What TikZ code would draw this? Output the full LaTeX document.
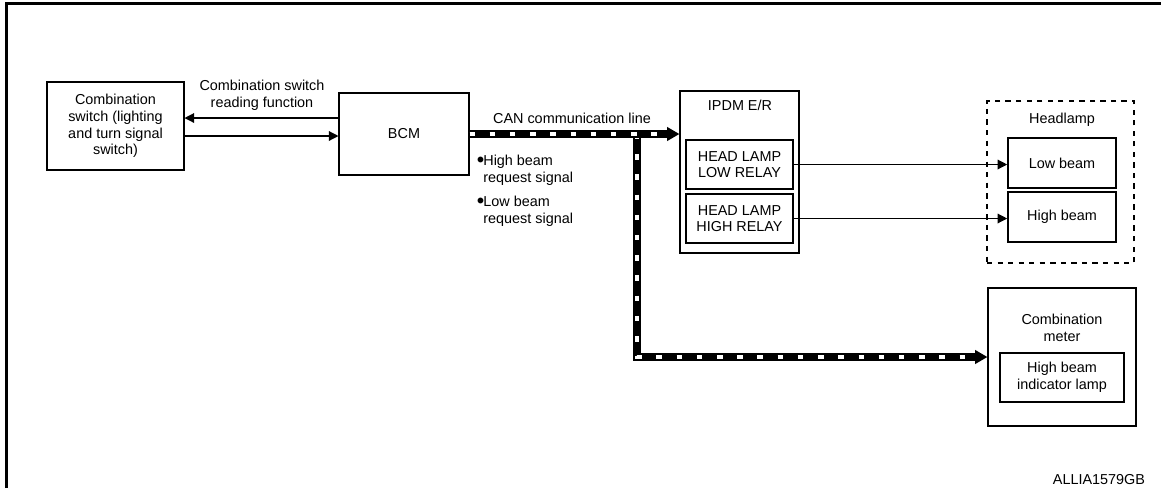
\documentclass[tikz,border=0pt]{standalone}
\usepackage{fontspec}
\setmainfont{Liberation Sans}
\usetikzlibrary{arrows.meta,positioning,calc}

\begin{document}
\begin{tikzpicture}[x=0.02cm,y=-0.02cm,
  font=\fontsize{8.2}{9.5}\selectfont,
  blk/.style={rectangle,draw,line width=0.6pt,align=center,inner sep=0pt},
  sub/.style={rectangle,draw,line width=0.9pt,align=center,inner sep=0pt},
  txt/.style={align=center,inner sep=0pt},
  arr/.style={-{Triangle[length=5.5pt,width=5.5pt]},line width=0.7pt},
  can/.style={line width=4pt,-{Triangle[length=7pt,width=7.5pt]},
              postaction={draw=white,-,line width=2.2pt,dash pattern=on 3.1pt off 8.4pt,shorten >=8pt}}
]
  \useasboundingbox (0,0) rectangle (1161,488);
  \draw[line width=1.7pt] (6.5,488) -- (6.5,3.5) -- (1161,3.5);

  \node[blk,minimum width=2.74cm,minimum height=1.76cm](sw) at (115.5,126)
      {Combination\\switch (lighting\\and turn signal\\switch)};
  \node[blk,minimum width=2.6cm,minimum height=1.64cm](bcm) at (404,134) {BCM};

  \node[blk,minimum width=2.38cm,minimum height=3.24cm](ipdm) at (739.5,172) {};
  \node[txt](ipdmt) at (740,105) {IPDM E/R};
  \node[sub,minimum width=2.14cm,minimum height=0.98cm](lowrly)  at (739.5,164.5) {HEAD LAMP\\LOW RELAY};
  \node[sub,minimum width=2.14cm,minimum height=0.98cm](highrly) at (739.5,218.5) {HEAD LAMP\\HIGH RELAY};

  \node[blk,dashed,minimum width=2.94cm,minimum height=3.24cm](hl) at (1060.5,182) {};
  \node[txt](hlt) at (1062,120) {Headlamp};
  \node[sub,minimum width=2.16cm,minimum height=1.0cm](lowbm)  at (1062,163) {Low beam};
  \node[sub,minimum width=2.16cm,minimum height=1.0cm](highbm) at (1062,217) {High beam};

  \node[blk,minimum width=2.96cm,minimum height=2.76cm](meter) at (1062,357) {};
  \node[txt](metert) at (1062,327.5) {Combination\\meter};
  \node[blk,minimum width=2.48cm,minimum height=0.98cm](lamp) at (1062,377.5) {High beam\\indicator lamp};

  \node[txt](cswl) at (262,95) {Combination switch\\reading function};
  \node[txt](canl) at (572,118) {CAN communication line};
  \node[txt,align=left,anchor=west](hbreq) at (483,170)
      {\llap{\raisebox{1.3pt}{$\bullet$}\hspace{-0.6pt}}High beam\\request signal};
  \node[txt,align=left,anchor=west](lbreq) at (483,211.5)
      {\llap{\raisebox{1.3pt}{$\bullet$}\hspace{-0.6pt}}Low beam\\request signal};
  \node[txt](code) at (1099,480) {ALLIA1579GB};

  \draw[arr]([yshift=0.32cm]bcm.west)--([yshift=0.32cm]bcm.west -| sw.east);
  \draw[arr]([yshift=-0.2cm]sw.east)--([yshift=-0.2cm]sw.east -| bcm.west);

  \coordinate (br) at (637,134);
  \draw[can](br) |- (meter.west);
  \draw[can](bcm.east)--(bcm.east -| ipdm.west);

  \draw[arr](lowrly.east)--(lowrly.east -| lowbm.west);
  \draw[arr](highrly.east)--(highrly.east -| highbm.west);
\end{tikzpicture}
\end{document}
